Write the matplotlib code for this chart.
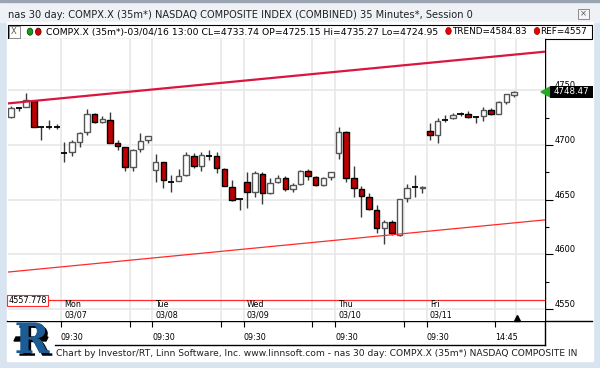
import matplotlib
matplotlib.use("Agg")
import matplotlib.pyplot as plt
import matplotlib.transforms as mtransforms
import matplotlib.patheffects as pe
from matplotlib.patches import Rectangle, Ellipse, Polygon
import numpy as np

plt.rcParams['font.family'] = ['DejaVu Sans']

# --- DADOS (barras de 35 min, indice 0 = seg 03/07 09:30) ---
bar_index = list(range(-7, 60))

opens = [4725.15, 4733.9, 4734.8, 4740.0, 4716.2, 4716.5, 4716.4,
         4692.2, 4693.7, 4702.8, 4712.0, 4728.1, 4720.5, 4723.2, 4701.3, 4698.0, 4680.0, 4696.1, 4704.3,
         4676.9, 4684.0, 4666.3, 4667.3, 4672.4, 4690.0, 4680.9, 4690.0, 4690.0, 4677.9, 4661.7, 4650.5,
         4666.3, 4657.1, 4673.0, 4656.3, 4665.7, 4670.0, 4659.3, 4664.2, 4676.0, 4670.3, 4663.2, 4670.3,
         4692.8, 4711.9, 4669.4, 4659.3, 4652.6, 4640.4, 4623.7, 4629.7, 4617.6, 4651.1, 4661.1, 4660.8,
         4712.6, 4708.9, 4722.6, 4724.2, 4728.1, 4728.7, 4725.6, 4726.3, 4731.7, 4728.7, 4739.3, 4745.5]
highs = [4735.27, 4734.5, 4747.5, 4740.9, 4716.5, 4722.6, 4718.7,
         4702.3, 4704.3, 4712.0, 4732.6, 4729.0, 4726.5, 4730.2, 4704.3, 4698.5, 4696.0, 4711.0, 4708.5,
         4691.3, 4684.5, 4672.4, 4677.9, 4693.1, 4692.2, 4693.1, 4695.2, 4693.1, 4678.5, 4667.8, 4651.0,
         4675.4, 4676.3, 4675.4, 4670.0, 4672.4, 4671.5, 4664.8, 4677.0, 4677.9, 4671.5, 4670.8, 4675.4,
         4716.5, 4712.5, 4680.6, 4662.3, 4655.7, 4645.0, 4631.3, 4631.3, 4651.0, 4664.2, 4672.4, 4662.0,
         4719.6, 4724.2, 4727.2, 4729.3, 4729.9, 4731.0, 4726.0, 4734.8, 4733.3, 4740.0, 4747.0, 4749.0]
lows = [4724.95, 4731.0, 4734.5, 4716.0, 4704.3, 4715.0, 4714.4,
        4684.0, 4689.7, 4698.2, 4709.5, 4719.6, 4720.0, 4702.0, 4695.2, 4676.0, 4676.0, 4693.7, 4701.9,
        4666.3, 4660.8, 4657.1, 4667.0, 4672.0, 4678.5, 4676.3, 4686.1, 4673.9, 4662.0, 4649.0, 4640.4,
        4642.2, 4652.6, 4645.9, 4655.0, 4664.8, 4658.0, 4657.1, 4663.8, 4667.8, 4662.0, 4662.5, 4667.8,
        4686.7, 4665.7, 4652.6, 4634.3, 4640.5, 4619.1, 4609.4, 4617.6, 4616.5, 4648.0, 4652.6, 4656.2,
        4704.3, 4702.2, 4720.5, 4723.5, 4726.5, 4724.9, 4719.6, 4722.0, 4727.2, 4728.0, 4737.0, 4744.0]
closes = [4733.74, 4733.9, 4740.9, 4716.5, 4716.2, 4716.5, 4716.4,
          4692.2, 4702.3, 4711.0, 4728.7, 4720.5, 4723.5, 4702.2, 4698.9, 4680.0, 4695.2, 4703.4, 4708.0,
          4684.0, 4667.8, 4666.3, 4671.7, 4690.6, 4680.9, 4690.6, 4690.0, 4678.5, 4662.6, 4649.5, 4650.5,
          4657.1, 4673.9, 4656.3, 4665.4, 4670.0, 4659.3, 4663.2, 4676.0, 4671.5, 4663.2, 4669.4, 4674.8,
          4711.9, 4670.0, 4660.8, 4653.2, 4641.0, 4623.7, 4629.7, 4619.1, 4650.2, 4660.8, 4661.1, 4661.7,
          4708.9, 4722.0, 4722.6, 4727.8, 4728.1, 4725.6, 4725.6, 4731.7, 4728.7, 4739.3, 4746.1, 4748.47]

# linhas de tendencia (indice, preco) nas extremidades
upper_trend_x = [-7.45, 63.0]
upper_trend_y = [4737.9, 4785.2]
lower_trend_x = [-7.45, 63.0]
lower_trend_y = [4583.7, 4631.4]
ref_level = 4557.778
last_price = 4748.47

day_start = [0, 12, 24, 36, 48]
day_names = ["Mon", "Tue", "Wed", "Thu", "Fri"]
day_dates = ["03/07", "03/08", "03/09", "03/10", "03/11"]
afternoon = [9, 21, 33, 45, 57]   # barras das 14:45
price_ticks = [4550, 4600, 4650, 4700, 4750]

title = "nas 30 day: COMPX.X (35m*) NASDAQ COMPOSITE INDEX (COMBINED) 35 Minutes*, Session 0"
legend_txt = "COMPX.X (35m*)-03/04/16 13:00 CL=4733.74 OP=4725.15 Hi=4735.27 Lo=4724.95"
footer = ("Chart by Investor/RT, Linn Software, Inc. www.linnsoft.com - nas 30 day: "
          "COMPX.X (35m*) NASDAQ COMPOSITE IN")

W, H = 600, 368
fig = plt.figure(figsize=(6, 3.68), dpi=100)
fig.patch.set_facecolor('#d9e4f1')

# fundo em pixels
bg = fig.add_axes([0, 0, 1, 1])
bg.set_xlim(0, W)
bg.set_ylim(H, 0)
bg.axis('off')
bg.add_patch(Rectangle((0, 0), W, 22, color='#eef2f7', zorder=0))
bg.add_patch(Rectangle((0, 0), W, 1.5, color='#9aa5b1', zorder=0))
bg.add_patch(Rectangle((7, 22), 586, 339, color='white', zorder=0))
bg.text(8, 15, title, fontsize=7.1, va='center', ha='left', color='#202020')
bg.add_patch(Rectangle((578, 8.5), 11, 10, facecolor='#f5f5f5', edgecolor='#8a8a8a', lw=0.7))
bg.text(583.5, 13.5, "×", fontsize=6, ha='center', va='center', color='#555555')

# barra de legenda
bg.add_patch(Rectangle((7.5, 24.5), 584.5, 14, facecolor='white', edgecolor='black', lw=0.8, zorder=1))
bg.add_patch(Rectangle((8.5, 25.5), 11, 12, facecolor='white', edgecolor='#777777', lw=0.6, zorder=2))
bg.text(14, 31.8, "X", fontsize=6, ha='center', va='center', color='#555555', zorder=3)
bg.add_patch(Ellipse((30, 31.7), 5.5, 7, facecolor='#1d9a1d', edgecolor='#0b4d0b', lw=0.6, zorder=3))
bg.add_patch(Ellipse((38.3, 31.7), 5.5, 7, facecolor='#dd0000', edgecolor='#5a0000', lw=0.6, zorder=3))
bg.text(46.5, 32, legend_txt, fontsize=6.7, va='center', ha='left', zorder=3)
bg.add_patch(Ellipse((448.5, 31), 5.5, 7, facecolor='#ee0000', edgecolor='#990000', lw=0.5, zorder=3))
bg.text(452.5, 32, "TREND=4584.83", fontsize=6.4, va='center', ha='left', zorder=3)
bg.add_patch(Ellipse((537, 31), 5.5, 7, facecolor='#ee0000', edgecolor='#990000', lw=0.5, zorder=3))
bg.text(540.5, 32, "REF=4557", fontsize=6.4, va='center', ha='left', zorder=3)

# linhas do eixo inferior
bg.plot([7, 592], [321, 321], color='black', lw=1.0)
bg.plot([55, 544.5], [344.5, 344.5], color='black', lw=1.0)
bg.plot([544.5, 544.5], [38.5, 344.5], color='black', lw=1.0)

# rodape e logotipo
bg.text(56, 353, footer, fontsize=6.6, va='center', ha='left', color='#202020')
bg.text(32, 341, "R", fontsize=30, fontweight='bold', family='DejaVu Serif',
        ha='center', va='center', color='#1c5b94',
        path_effects=[pe.withSimplePatchShadow(offset=(2, -2), shadow_rgbFace='black', alpha=1.0),
                      pe.Normal()])
bg.add_patch(Polygon([[16, 337], [48, 337], [46, 341], [14, 341]], color='black'))

# --- GRAFICO PRINCIPAL ---
ax = fig.add_axes([7.5 / W, (H - 321) / H, (544.5 - 7.5) / W, (321 - 38.5) / H])
ax.set_zorder(2)
ax.set_facecolor('white')
ax.set_xlim(-7.45, 63.02)
ax.set_ylim(4539.0, 4797.3)
for s in ax.spines.values():
    s.set_visible(False)

tick_off = -0.43
grid_x = [d + tick_off for d in sorted(day_start + afternoon)]
for gx in grid_x + [59.28]:
    ax.axvline(gx, color='#e6e6e6', lw=1.1, zorder=0)
for py in price_ticks:
    ax.axhline(py, color='#e6e6e6', lw=1.1, zorder=0)

x = np.array(bar_index, dtype=float)
o = np.array(opens)
hi = np.array(highs)
lo = np.array(lows)
c = np.array(closes)
up = c > o + 0.3
down = c < o - 0.3
doji = ~up & ~down
ax.vlines(x, lo, hi, color='#3a3a3a', lw=1.0, zorder=3)
ax.bar(x[up], (c - o)[up], bottom=o[up], width=0.72, color='white',
       edgecolor='#555555', lw=1.0, zorder=4)
ax.bar(x[down], (c - o)[down], bottom=o[down], width=0.72, color='#c00000',
       edgecolor='black', lw=1.0, zorder=4)
ax.hlines(o[doji], x[doji] - 0.4, x[doji] + 0.4, color='black', lw=1.3, zorder=4)

# tendencias e referencia
ax.plot(upper_trend_x, upper_trend_y, color='#d9163f', lw=1.6, zorder=5)
ax.plot(lower_trend_x, lower_trend_y, color='#ff2a2a', lw=0.9, zorder=5)
ax.axhline(ref_level, color='#ff2a2a', lw=0.9, zorder=5)
ax.text(-7.3, ref_level, f"{ref_level:.3f}", fontsize=5.9, va='center', ha='left', zorder=6,
        bbox=dict(boxstyle='square,pad=0.15', facecolor='white', edgecolor='#ff2a2a', lw=0.8))

# eixo direito
ax.yaxis.tick_right()
ax.set_yticks(price_ticks)
ax.set_yticks([p + 25 for p in price_ticks[:-1]], minor=True)
ax.set_yticklabels([str(p) for p in price_ticks], fontsize=6)
ax.tick_params(axis='y', which='major', length=6, width=0.8, pad=1)
ax.tick_params(axis='y', which='minor', length=3, width=0.8)
for lab in ax.get_yticklabels():
    lab.set_va('bottom')

# eixo inferior
ax.set_xticks(grid_x)
ax.set_xticklabels([])
ax.tick_params(axis='x', length=4.5, width=0.8, direction='out')

mix = mtransforms.blended_transform_factory(ax.transData, bg.transData)
for d, nm, dt in zip(day_start, day_names, day_dates):
    ax.text(d + tick_off + 0.4, 304.5, nm, transform=mix, fontsize=5.8, va='center', ha='left', zorder=6)
    ax.text(d + tick_off + 0.4, 315, dt, transform=mix, fontsize=5.8, va='center', ha='left', zorder=6)
    ax.text(d + tick_off, 338, "09:30", transform=mix, fontsize=5.8, va='center', ha='left', clip_on=False)
ax.text(afternoon[-1] + tick_off, 338, "14:45", transform=mix, fontsize=5.8, va='center', ha='left', clip_on=False)
ax.plot([59.4], [317.5], marker='^', color='black', markersize=4.5, transform=mix, clip_on=False, zorder=6)

# preco atual
mix2 = mtransforms.blended_transform_factory(bg.transData, ax.transData)
ax.add_patch(Polygon([[541, last_price], [550, last_price + 4.5], [550, last_price - 4.5]],
                     closed=True, color='#22aa22', transform=mix2, clip_on=False, zorder=7))
ax.add_patch(Rectangle((550, last_price - 5.3), 42.5, 10.6, facecolor='black',
                       transform=mix2, clip_on=False, zorder=7))
ax.text(571.3, last_price, f"{last_price:.2f}", transform=mix2, fontsize=6.2, color='white',
        ha='center', va='center', clip_on=False, zorder=8)

fig.savefig("out.png", dpi=100, facecolor=fig.get_facecolor())
